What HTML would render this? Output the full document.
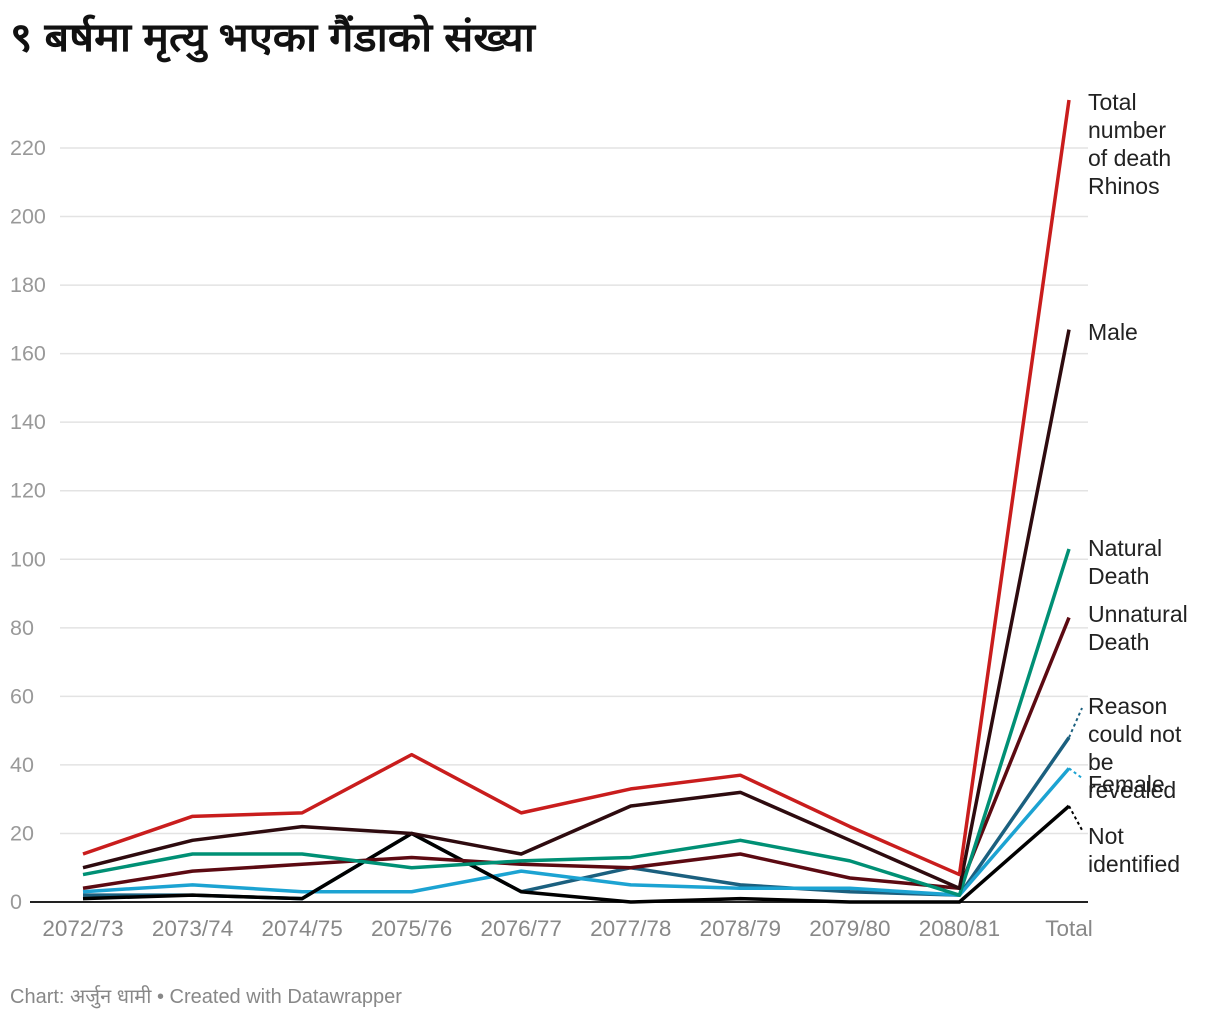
<!DOCTYPE html>
<html><head><meta charset="utf-8"><style>
body{margin:0;width:1220px;height:1020px;background:#fff;font-family:"Liberation Sans",sans-serif;overflow:hidden}
#t{position:absolute;left:10px;top:8px;font-family:"Liberation Sans","Noto Sans CJK SC","WenQuanYi Zen Hei",sans-serif;font-size:40px;font-weight:bold;color:#111;margin:0;transform:scaleX(1.08);transform-origin:left top;white-space:nowrap}
#f{position:absolute;left:10px;top:982px;font-size:20px;color:#888;font-family:"Liberation Sans","Noto Sans CJK SC",sans-serif}
</style></head><body>
<h1 id="t">९ बर्षमा मृत्यु भएका गैंडाको संख्या</h1>
<svg id="c" width="1220" height="1020" style="position:absolute;left:0;top:0"></svg>
<div id="f">Chart: अर्जुन धामी • Created with Datawrapper</div>
<script>
const categories=["2072/73","2073/74","2074/75","2075/76","2076/77","2077/78","2078/79","2079/80","2080/81","Total"];
const yTicks=[0,20,40,60,80,100,120,140,160,180,200,220];
const totalVals=[14,25,26,43,26,33,37,22,8,234];
const maleVals=[10,18,22,20,14,28,32,18,4,167];
const naturalVals=[8,14,14,10,12,13,18,12,2,103];
const unnaturalVals=[4,9,11,13,11,10,14,7,4,83];
const reasonVals=[2,2,1,20,3,10,5,3,2,48];
const femaleVals=[3,5,3,3,9,5,4,4,2,39];
const notIdVals=[1,2,1,20,3,0,1,0,0,28];
const NS="http://www.w3.org/2000/svg",svg=document.getElementById('c');
const x=i=>83+i*(1069-83)/9, y=v=>902-v*(902-148)/220;
function mk(tag,at,txt){const e=document.createElementNS(NS,tag);for(const k in at)e.setAttribute(k,at[k]);if(txt!=null)e.textContent=txt;svg.appendChild(e);return e;}
yTicks.forEach(t=>{
 const g=mk('line',{x1:t?60:30,x2:1088,y1:y(t),y2:y(t),stroke:t?'#e3e3e3':'#222','stroke-width':t?1.5:2});
 
 
 const l=mk('text',{x:10,y:y(t)+7,'font-size':21.5,fill:'#999'},t);
 
 
});
categories.forEach((c,i)=>{
 const l=mk('text',{x:x(i),y:936,'font-size':22.5,fill:'#888','text-anchor':'middle'},c);
 
 
});
const series=[
 {v:reasonVals,c:'#1b607f',n:'reason-line',lab:["Reason","could not","be","revealed"],ly:708},
 {v:femaleVals,c:'#1ca3d2',n:'female-line',lab:["Female"],ly:786},
 {v:notIdVals,c:'#000',n:'not-identified-line',lab:["Not","identified"],ly:838},
 {v:unnaturalVals,c:'#5c0a12',n:'unnatural-line',lab:["Unnatural","Death"],ly:616},
 {v:naturalVals,c:'#009075',n:'natural-line',lab:["Natural","Death"],ly:550},
 {v:maleVals,c:'#2e0b0f',n:'male-line',lab:["Male"],ly:334},
 {v:totalVals,c:'#c91d1d',n:'total-line',lab:["Total","number","of death","Rhinos"],ly:104}
];
series.forEach(s=>{
 const p=mk('polyline',{points:s.v.map((v,i)=>x(i)+','+y(v)).join(' '),fill:'none',stroke:s.c,'stroke-width':3.5,'stroke-linejoin':'round'});
 
 
 const ey=y(s.v[9]);
 if(Math.abs(ey-(s.ly))>12){
  const d=mk('line',{x1:x(9),y1:ey,x2:1082,y2:s.ly+(s.ly<ey?0:-8),stroke:s.c,'stroke-width':2,'stroke-dasharray':'3,3'});
  
  
 }
 s.lab.forEach((t,k)=>{
  const l=mk('text',{x:1088,y:s.ly+k*28,'font-size':23,fill:'#222','dominant-baseline':'middle'},t);
  
  
 });
});
</script>
</body></html>
